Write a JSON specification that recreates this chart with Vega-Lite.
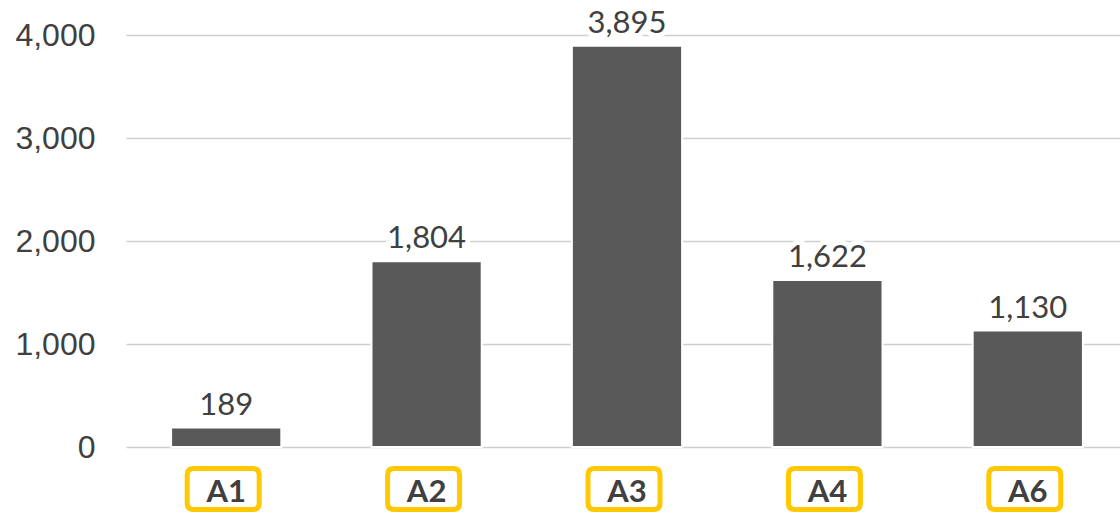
{
  "$schema": "https://vega.github.io/schema/vega-lite/v6.json",
  "autosize": "none",
  "padding": {"left": 126, "top": 35, "right": 0, "bottom": 68},
  "width": 1002,
  "height": 412,
  "background": "white",
  "data": {"values": [
    {"group": "A1", "value": 189},
    {"group": "A2", "value": 1804},
    {"group": "A3", "value": 3895},
    {"group": "A4", "value": 1622},
    {"group": "A6", "value": 1130}
  ]},
  "encoding": {
    "x": {"field": "group", "type": "nominal", "sort": null,
      "scale": {"paddingInner": 0.45, "paddingOuter": 0.225},
      "axis": {"title": null, "domain": false, "ticks": false, "labelAngle": 0,
        "labelFont": "Lato", "labelFontWeight": "bold", "labelFontSize": 31,
        "labelColor": "#404040", "labelPadding": 30, "labelDx": -3}}
  },
  "layer": [
    {
      "mark": {"type": "bar", "color": "#595959", "stroke": "white", "strokeWidth": 2},
      "encoding": {
        "y": {"field": "value", "type": "quantitative",
          "scale": {"domain": [0, 4000], "nice": false},
          "axis": {"title": null, "domain": false, "ticks": false,
            "values": [0, 1000, 2000, 3000, 4000], "format": ",.0f",
            "labelFont": "Liberation Sans", "labelFontSize": 32, "labelColor": "#404040",
            "labelPadding": 31, "gridColor": "#cfcfcf", "gridWidth": 1.3}}
      }
    },
    {
      "mark": {"type": "text", "font": "Lato", "fontSize": 31, "baseline": "alphabetic",
        "dy": -13, "stroke": "white", "strokeWidth": 10, "fill": "white"},
      "encoding": {
        "y": {"field": "value", "type": "quantitative"},
        "text": {"field": "value", "type": "quantitative", "format": ","}
      }
    },
    {
      "mark": {"type": "text", "font": "Lato", "fontSize": 31, "baseline": "alphabetic",
        "dy": -13, "color": "#404040"},
      "encoding": {
        "y": {"field": "value", "type": "quantitative"},
        "text": {"field": "value", "type": "quantitative", "format": ","}
      }
    },
    {
      "mark": {"type": "point", "filled": false, "stroke": "#ffc800", "strokeWidth": 5,
        "opacity": 1, "size": 5184, "yOffset": 42, "xOffset": -3,
        "shape": "M -0.82,-0.569 L 0.82,-0.569 Q 1,-0.569 1,-0.389 L 1,0.389 Q 1,0.569 0.82,0.569 L -0.82,0.569 Q -1,0.569 -1,0.389 L -1,-0.389 Q -1,-0.569 -0.82,-0.569 Z"},
      "encoding": {
        "y": {"datum": 0, "type": "quantitative",
          "axis": {"title": null, "domain": false, "ticks": false,
            "values": [0, 1000, 2000, 3000, 4000], "format": ",.0f",
            "labelFont": "Liberation Sans", "labelFontSize": 32, "labelColor": "#404040",
            "labelPadding": 31, "gridColor": "#cfcfcf", "gridWidth": 1.3}}
      }
    }
  ],
  "config": {"view": {"stroke": null}}
}
